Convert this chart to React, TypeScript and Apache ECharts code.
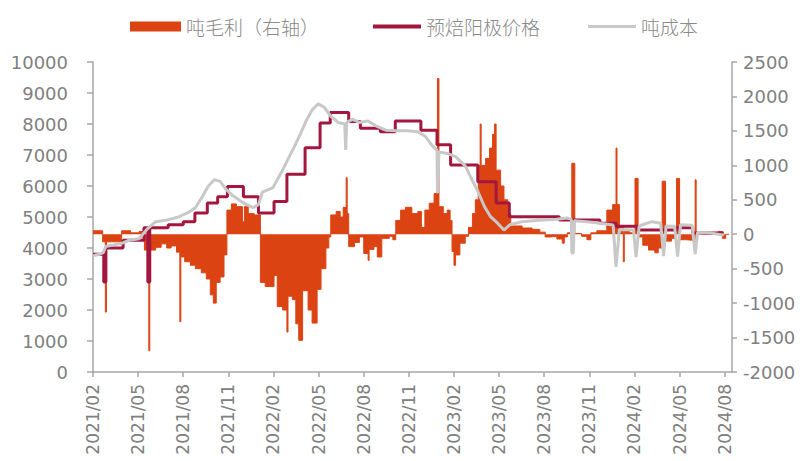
import React, { useEffect, useRef } from 'react';
import * as echarts from 'echarts';

// ---------- data ----------
const X_START = '2021-02-01';
const X_END = '2024-08-16';
const TICK_MONTH_STEP = 3;

const legendNames = ['吨毛利（右轴）', '预焙阳极价格', '吨成本'];

const leftAxis = { min: 0, max: 10000, interval: 1000 };
const rightAxis = { min: -2000, max: 2500, interval: 500 };

// 预焙阳极价格 (step changes: date -> value from that date)
const priceData: [string, number][] = [
  ['2021-02-01', 3800], ['2021-02-21', 2900], ['2021-02-25', 4000],
  ['2021-04-01', 4250], ['2021-05-13', 4650], ['2021-05-21', 2900], ['2021-05-25', 4650],
  ['2021-07-01', 4750], ['2021-08-01', 4850], ['2021-08-25', 5130], ['2021-09-19', 5450],
  ['2021-10-10', 5650], ['2021-10-30', 5980], ['2021-12-01', 5650], ['2022-01-01', 5130],
  ['2022-02-02', 5500], ['2022-02-26', 6380], ['2022-04-04', 7230], ['2022-05-04', 8030],
  ['2022-05-25', 8370], ['2022-07-01', 8080], ['2022-07-25', 7860], ['2022-09-04', 7750],
  ['2022-10-04', 8100], ['2022-11-25', 7800], ['2022-12-28', 7330], ['2023-01-25', 6680],
  ['2023-03-19', 6140], ['2023-04-25', 5450], ['2023-05-22', 5010], ['2023-09-01', 4900],
  ['2023-11-22', 4800], ['2023-12-25', 4700], ['2024-02-07', 4580], ['2024-04-25', 4650],
  ['2024-05-28', 4480], ['2024-07-30', 4480],
];

// 吨成本
const costData: [string, number][] = [
  ['2021-02-01', 3750], ['2021-02-13', 3800], ['2021-02-20', 3850], ['2021-02-25', 4050],
  ['2021-03-13', 4100], ['2021-03-29', 4150], ['2021-04-13', 4250], ['2021-05-03', 4300],
  ['2021-05-19', 4600], ['2021-06-06', 4850], ['2021-06-28', 4900], ['2021-07-22', 5000],
  ['2021-08-12', 5150], ['2021-08-26', 5300], ['2021-09-07', 5600], ['2021-09-21', 6000],
  ['2021-10-03', 6200], ['2021-10-15', 6150], ['2021-10-27', 5900], ['2021-11-09', 5700],
  ['2021-12-01', 5450], ['2021-12-21', 5300], ['2022-01-01', 5400], ['2022-01-09', 5800],
  ['2022-01-31', 5950], ['2022-02-16', 6450], ['2022-03-01', 6900], ['2022-03-14', 7300],
  ['2022-03-26', 7700], ['2022-04-06', 8100], ['2022-04-18', 8450], ['2022-04-30', 8650],
  ['2022-05-12', 8550], ['2022-05-26', 8250], ['2022-06-10', 8050], ['2022-06-23', 8000],
  ['2022-06-25', 7160], ['2022-06-27', 8050], ['2022-07-09', 8150], ['2022-07-23', 8050],
  ['2022-08-09', 8100], ['2022-08-25', 7950], ['2022-09-15', 7800], ['2022-10-05', 7780],
  ['2022-10-29', 7780], ['2022-11-19', 7750], ['2022-12-04', 7600], ['2022-12-18', 7300],
  ['2022-12-28', 7150], ['2022-12-29', 5770], ['2023-01-01', 7100], ['2023-01-18', 7050],
  ['2023-02-04', 6950], ['2023-02-22', 6650], ['2023-03-04', 6300], ['2023-03-18', 5870],
  ['2023-04-02', 5330], ['2023-04-14', 5010], ['2023-04-28', 4800], ['2023-05-11', 4580],
  ['2023-05-23', 4750], ['2023-06-17', 4850], ['2023-07-27', 4900], ['2023-08-27', 4930],
  ['2023-09-16', 4970], ['2023-09-25', 4930], ['2023-09-26', 3840], ['2023-09-29', 3840],
  ['2023-10-01', 4880], ['2023-10-27', 4850], ['2023-11-22', 4800], ['2023-12-19', 4740],
  ['2023-12-25', 3390], ['2024-01-01', 4600], ['2024-01-30', 4580], ['2024-02-04', 3710],
  ['2024-02-10', 4700], ['2024-02-16', 4750], ['2024-03-06', 4850], ['2024-03-24', 4800],
  ['2024-03-30', 3740], ['2024-04-04', 4710], ['2024-04-21', 4700], ['2024-04-27', 3720],
  ['2024-05-03', 4750], ['2024-05-27', 4730], ['2024-06-02', 3800], ['2024-06-07', 4500],
  ['2024-07-05', 4480], ['2024-07-28', 4420], ['2024-07-30', 4400],
];

// 吨毛利（右轴）
const profitData: [string, number][] = [
  ['2021-02-01', 50], ['2021-02-19', -110], ['2021-02-24', -1130], ['2021-02-26', -110],
  ['2021-03-29', 50], ['2021-04-16', 20], ['2021-05-03', 40], ['2021-05-14', -230],
  ['2021-05-23', -1690], ['2021-05-25', -230], ['2021-06-06', -190], ['2021-06-17', -140],
  ['2021-06-28', -200], ['2021-07-07', -170], ['2021-07-18', -260], ['2021-07-25', -1270],
  ['2021-07-27', -330], ['2021-08-04', -400], ['2021-08-16', -450], ['2021-08-26', -500],
  ['2021-09-07', -560], ['2021-09-17', -650], ['2021-09-25', -880], ['2021-10-01', -1000],
  ['2021-10-07', -700], ['2021-10-15', -620], ['2021-10-23', -300], ['2021-10-29', 350],
  ['2021-11-07', 440], ['2021-11-17', 400], ['2021-11-29', 180], ['2021-12-03', 400],
  ['2021-12-11', 300], ['2021-12-23', 280], ['2022-01-05', -700], ['2022-01-15', -760],
  ['2022-02-02', -600], ['2022-02-08', -1050], ['2022-02-18', -1100], ['2022-02-26', -1420],
  ['2022-02-28', -900], ['2022-03-09', -950], ['2022-03-16', -1300], ['2022-03-22', -1540],
  ['2022-03-30', -820], ['2022-04-10', -1100], ['2022-04-18', -1290], ['2022-04-28', -800],
  ['2022-05-06', -500], ['2022-05-16', -200], ['2022-05-22', -40], ['2022-05-26', 280],
  ['2022-06-06', 330], ['2022-06-14', 250], ['2022-06-20', 390], ['2022-06-26', 820],
  ['2022-06-28', 300], ['2022-07-01', -180], ['2022-07-13', -120], ['2022-07-23', -40],
  ['2022-08-01', -280], ['2022-08-10', -380], ['2022-08-12', -220], ['2022-08-22', -180],
  ['2022-08-29', -330], ['2022-09-07', -60], ['2022-09-22', -30], ['2022-09-29', -80],
  ['2022-10-05', 200], ['2022-10-15', 350], ['2022-10-25', 390], ['2022-11-07', 300],
  ['2022-11-19', 330], ['2022-11-26', 100], ['2022-12-03', 350], ['2022-12-12', 450],
  ['2022-12-22', 590], ['2022-12-29', 2260], ['2023-01-01', 400], ['2023-01-10', 300],
  ['2023-01-18', 350], ['2023-01-24', 200], ['2023-01-28', -250], ['2023-02-01', -450],
  ['2023-02-04', -300], ['2023-02-12', -130], ['2023-02-22', -30], ['2023-02-28', 100],
  ['2023-03-08', 300], ['2023-03-14', 500], ['2023-03-20', 1000], ['2023-03-24', 1600],
  ['2023-03-26', 1000], ['2023-04-04', 1100], ['2023-04-12', 1250], ['2023-04-18', 1450],
  ['2023-04-22', 1600], ['2023-04-25', 930], ['2023-05-04', 700], ['2023-05-11', 500],
  ['2023-05-19', 300], ['2023-05-25', 120], ['2023-06-17', 90], ['2023-07-07', 70],
  ['2023-07-23', 30], ['2023-08-03', -40], ['2023-08-13', -30], ['2023-08-27', -70],
  ['2023-09-07', -130], ['2023-09-11', -40], ['2023-09-17', 20], ['2023-09-26', 1030],
  ['2023-10-02', 10], ['2023-10-16', -30], ['2023-10-27', -80], ['2023-11-04', 20],
  ['2023-11-16', 50], ['2023-12-06', 350], ['2023-12-18', 430], ['2023-12-25', 1250],
  ['2023-12-27', 430], ['2024-01-01', 100], ['2024-01-09', -400], ['2024-01-11', 40],
  ['2024-01-22', 20], ['2024-02-02', 810], ['2024-02-08', -40], ['2024-02-17', -160],
  ['2024-02-28', -230], ['2024-03-12', -270], ['2024-03-19', -200], ['2024-03-27', 770],
  ['2024-04-03', -100], ['2024-04-15', -60], ['2024-04-25', 810], ['2024-05-01', -80],
  ['2024-05-15', -90], ['2024-06-02', 790], ['2024-06-04', 20], ['2024-06-16', 0],
  ['2024-07-04', 20], ['2024-07-18', 40], ['2024-07-27', -60], ['2024-08-03', 0],
  ['2024-08-10', 0],
];

// ---------- helpers ----------
const BASE_YEAR = 2021;
const BASE_MONTH = 2;

function toMonthIndex(s: string): number {
  const [y, m, d] = s.split('-').map(Number);
  const dim = new Date(y, m, 0).getDate();
  return (y - BASE_YEAR) * 12 + (m - BASE_MONTH) + (d - 1) / dim;
}

function monthLabel(v: number): string {
  const k = Math.round(v);
  if (Math.abs(v - k) > 1e-6 || k % TICK_MONTH_STEP !== 0) return '';
  const total = BASE_MONTH - 1 + k;
  const y = BASE_YEAR + Math.floor(total / 12);
  const mm = (total % 12) + 1;
  return `${y}/${String(mm).padStart(2, '0')}`;
}

const toPoints = (arr: [string, number][]) => arr.map(([d, v]) => [toMonthIndex(d), v]);

const COLORS = {
  profit: '#DC4312',
  price: '#A3173F',
  cost: '#C8C8C8',
  axis: '#A6A6A6',
  label: '#808080',
};

export default function App() {
  const ref = useRef<HTMLDivElement>(null);

  useEffect(() => {
    if (!ref.current) return;
    const chart = echarts.init(ref.current, undefined, { renderer: 'svg' });
    const yFont = { color: COLORS.label, fontSize: 18, fontFamily: 'DejaVu Sans' };
    const xFont = { color: COLORS.label, fontSize: 17, fontFamily: 'DejaVu Sans' };
    const legendText = { color: '#8a8a8a', fontSize: 19, fontWeight: 300, fontFamily: 'Noto Sans CJK SC' };
    const plain = (v: number) => String(v);
    chart.setOption({
      animation: false,
      backgroundColor: '#ffffff',
      grid: { left: 93, right: 76, top: 62, bottom: 89, containLabel: false },
      legend: [
        { data: [legendNames[0]], left: 125, top: 12, icon: 'rect', itemWidth: 51, itemHeight: 10, textStyle: legendText },
        { data: [legendNames[1]], left: 368, top: 12, icon: 'rect', itemWidth: 48, itemHeight: 4, textStyle: legendText },
        { data: [legendNames[2]], left: 583, top: 12, icon: 'rect', itemWidth: 48, itemHeight: 3, textStyle: legendText },
      ],
      xAxis: {
        type: 'value',
        min: toMonthIndex(X_START),
        max: toMonthIndex(X_END),
        interval: TICK_MONTH_STEP,
        axisLine: { show: true, onZero: false, lineStyle: { color: COLORS.axis, width: 1.5 } },
        axisTick: { show: true, length: 5, lineStyle: { color: COLORS.axis, width: 1.5 } },
        splitLine: { show: false },
        axisLabel: { ...xFont, rotate: 90, margin: 12, formatter: (v: number) => monthLabel(v), showMaxLabel: false },
      },
      yAxis: [
        {
          type: 'value',
          ...leftAxis,
          axisLine: { show: true, lineStyle: { color: COLORS.axis, width: 1.5 } },
          axisTick: { show: true, length: 6, lineStyle: { color: COLORS.axis, width: 1.5 } },
          splitLine: { show: false },
          axisLabel: { ...yFont, margin: 25, formatter: plain },
        },
        {
          type: 'value',
          ...rightAxis,
          position: 'right',
          axisLine: { show: true, lineStyle: { color: COLORS.axis, width: 1.5 } },
          axisTick: { show: true, length: 5, lineStyle: { color: COLORS.axis, width: 1.5 } },
          splitLine: { show: false },
          axisLabel: { ...yFont, margin: 11, formatter: plain },
        },
      ],
      series: [
        {
          name: legendNames[0],
          type: 'line',
          yAxisIndex: 1,
          step: 'end',
          symbol: 'none',
          data: toPoints(profitData),
          itemStyle: { color: COLORS.profit },
          lineStyle: { color: COLORS.profit, width: 1 },
          areaStyle: { color: COLORS.profit, opacity: 1 },
          z: 1,
        },
        {
          name: legendNames[1],
          type: 'line',
          yAxisIndex: 0,
          step: 'end',
          symbol: 'none',
          data: toPoints(priceData),
          itemStyle: { color: COLORS.price },
          lineStyle: { color: COLORS.price, width: 3 },
          z: 2,
        },
        {
          name: legendNames[2],
          type: 'line',
          yAxisIndex: 0,
          symbol: 'none',
          data: toPoints(costData),
          itemStyle: { color: COLORS.cost },
          lineStyle: { color: COLORS.cost, width: 3 },
          z: 3,
        },
      ],
    });
    return () => chart.dispose();
  }, []);

  return (
    <div
      ref={ref}
      style={{ position: 'absolute', left: 0, top: 0, width: 808, height: 461, background: '#fff' }}
    />
  );
}
